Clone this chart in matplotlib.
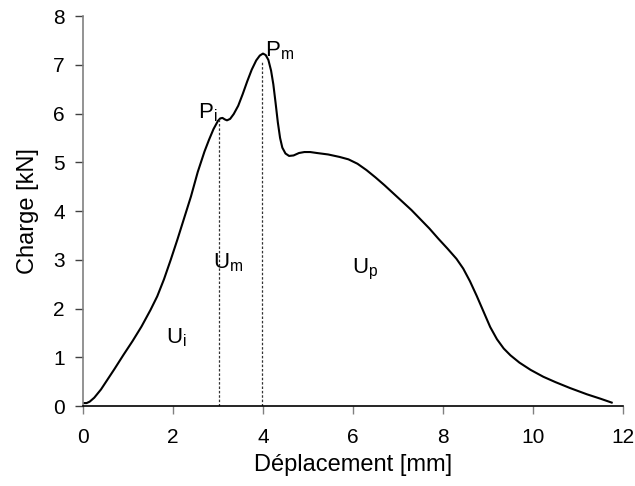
import matplotlib
matplotlib.use("Agg")
import matplotlib.pyplot as plt

plt.rcParams['font.family'] = ['Liberation Sans', 'DejaVu Sans']
plt.rcParams['mathtext.fontset'] = 'custom'
plt.rcParams['mathtext.rm'] = 'Liberation Sans'

displacement = [0.0, 0.08, 0.15, 0.25, 0.4, 0.55, 0.7, 0.9, 1.1, 1.3, 1.5, 1.65, 1.8,
                1.95, 2.1, 2.25, 2.4, 2.55, 2.7, 2.8, 2.9, 3.0, 3.05, 3.1, 3.15, 3.2,
                3.27, 3.35, 3.45, 3.55, 3.65, 3.75, 3.85, 3.93, 4.0, 4.06, 4.12, 4.18,
                4.23, 4.28, 4.33, 4.38, 4.43, 4.5, 4.58, 4.68, 4.8, 4.92, 5.05, 5.2,
                5.45, 5.7, 5.9, 6.1, 6.3, 6.5, 6.7, 6.9, 7.1, 7.3, 7.5, 7.7, 7.9, 8.1,
                8.3, 8.45, 8.6, 8.75, 8.9, 9.05, 9.2, 9.35, 9.5, 9.7, 9.95, 10.23,
                10.5, 10.82, 11.2, 11.5, 11.75]
load = [0.06, 0.06, 0.09, 0.17, 0.34, 0.55, 0.76, 1.05, 1.33, 1.63, 1.97, 2.25, 2.6,
        3.0, 3.42, 3.86, 4.3, 4.8, 5.22, 5.46, 5.68, 5.85, 5.9, 5.91, 5.88, 5.86,
        5.89, 5.99, 6.16, 6.4, 6.66, 6.9, 7.09, 7.19, 7.23, 7.2, 7.1, 6.88,
        6.6, 6.22, 5.82, 5.5, 5.3, 5.18, 5.13, 5.14, 5.19, 5.21, 5.21, 5.19,
        5.16, 5.11, 5.06, 4.97, 4.84, 4.69, 4.53, 4.36, 4.19, 4.02, 3.83, 3.64,
        3.43, 3.23, 3.02, 2.82, 2.56, 2.26, 1.94, 1.62, 1.37, 1.18, 1.04, 0.89,
        0.74, 0.6, 0.49, 0.37, 0.24, 0.15, 0.07]

pi_x, pi_y = 3.02, 5.9
pm_x, pm_y = 3.98, 7.05

x_ticks = [0, 2, 4, 6, 8, 10, 12]
y_ticks = [0, 1, 2, 3, 4, 5, 6, 7, 8]

fig = plt.figure(figsize=(6.35, 4.86), dpi=100)
ax = fig.add_axes([0.1307, 0.1646, 0.981 - 0.1307, 0.967 - 0.1646])

ax.plot(displacement, load, color='black', lw=1.5, solid_joinstyle='round')
ax.plot([pi_x, pi_x], [0, pi_y], color='#333333', lw=0.9, ls=(0, (2, 1.5)))
ax.plot([pm_x, pm_x], [0, pm_y], color='#333333', lw=0.9, ls=(0, (2, 1.5)))

fs_tick = 15
fs_lab = 17
fs_ann = 16
ax.text(2.56, 5.91, r'$\mathregular{P_i}$', fontsize=fs_ann, ha='left', va='baseline')
ax.text(4.04, 7.18, r'$\mathregular{P_m}$', fontsize=fs_ann, ha='left', va='baseline')
ax.text(2.89, 2.83, r'$\mathregular{U_m}$', fontsize=fs_ann, ha='left', va='baseline')
ax.text(5.98, 2.73, r'$\mathregular{U_p}$', fontsize=fs_ann, ha='left', va='baseline')
ax.text(1.84, 1.29, r'$\mathregular{U_i}$', fontsize=fs_ann, ha='left', va='baseline')

ax.set_xlim(0, 12)
ax.set_ylim(0, 8)
ax.set_xticks(x_ticks)
ax.set_yticks(y_ticks)
ax.tick_params(axis='both', direction='out', length=6, width=1, labelsize=fs_tick)
ax.tick_params(axis='x', colors='#808080', labelcolor='black', pad=10)
ax.tick_params(axis='y', colors='#404040', labelcolor='black', pad=7)

ax.spines['top'].set_visible(False)
ax.spines['right'].set_visible(False)
ax.spines['left'].set_color('#808080')
ax.spines['left'].set_linewidth(1.2)
ax.spines['bottom'].set_color('black')
ax.spines['bottom'].set_linewidth(1.2)

ax.set_xlabel('Déplacement [mm]', fontsize=fs_lab, labelpad=5)
ax.set_ylabel('Charge [kN]', fontsize=fs_lab, labelpad=10)

fig.savefig('out.png', dpi=100)
